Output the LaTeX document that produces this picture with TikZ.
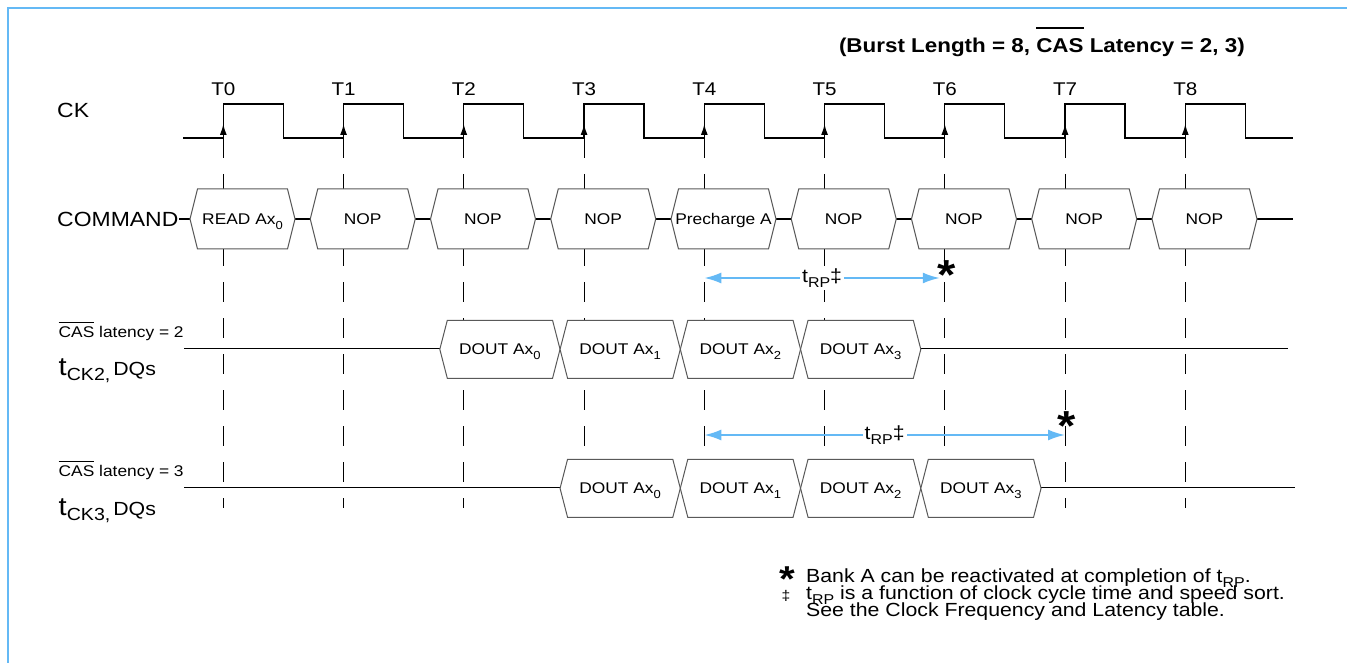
\documentclass[tikz,border=0pt]{standalone}
\usepackage{fontspec}
\setmainfont{Liberation Sans}[FakeStretch=1.12]
\usetikzlibrary{arrows.meta}
\definecolor{skyline}{RGB}{100,185,245}
\newcommand\fsz[1]{\fontsize{#1}{#1}\selectfont}
\newcommand\sub[1]{\raisebox{-.3em}{\scalebox{.75}{#1}}}
\newcommand\barred[2]{\setbox0\hbox{#2}\rlap{\rule[\dimexpr\ht0+#1\relax]{\wd0}{.08em}}\box0\relax}
\begin{document}
\begin{tikzpicture}[line cap=butt,>={Latex[length=17pt,width=11pt]},x=1pt,y=-1pt,
  sig/.style={line width=1.3pt},
  cell/.style={draw=black!65,fill=white,line width=1pt},
  tick/.style={line width=1.1pt,dash pattern=on 20pt off 16pt},
  rp/.style={<->,skyline,line width=2pt},
  rplbl/.style={fill=white,inner sep=2pt,text=black,font=\fsz{19}},
  txt/.style={inner sep=0pt,anchor=base}]
\useasboundingbox (0,0) rectangle (1347,663);
\draw[skyline,line width=2pt] (7.7,663) -- (7.7,7.7) -- (1347,7.7);
\node[txt,anchor=base east,font=\fsz{20}\bfseries] (title) at (1245,52.7) {(Burst Length = 8, \barred{.5em}{CAS} Latency = 2, 3)};
\node[txt,anchor=base west,font=\fsz{20.5}] (cklbl) at (57,117.5) {CK};
\node[txt,anchor=base west,font=\fsz{20.5}] (cmdlbl) at (57,227) {COMMAND};
\foreach \k in {0,...,8}{
  \pgfmathsetmacro\tx{223.3+120.25*\k}
  \node[txt,font=\fsz{18.4}] (tlbl\k) at (\tx,96) {T\k};
  \coordinate (e\k) at (\tx,138);
  \draw[tick] (e\k) -- (\tx,508);
  \draw[sig,-{Latex[length=11pt,width=7pt]}] (e\k) -- (\tx,124);
}
\draw[sig] (183,138) \foreach \k in {0,...,8}{ -- ({223.3+120.25*\k},138) -- ++(0,-34) -- ++(60,0) -- ++(0,34)} -- (1293,138);
\draw[sig] (179,219) -- (1293,219);
\foreach \k/\c in {0/READ Ax\sub{0},1/NOP,2/NOP,3/NOP,4/Precharge A,5/NOP,6/NOP,7/NOP,8/NOP}{
  \pgfmathsetmacro\xa{190+120.25*\k}
  \draw[cell] (\xa,219) -- ++(7.5,-30) -- ++(90,0) -- ++(7.5,30) -- ++(-7.5,30) -- ++(-90,0) -- cycle;
  \node[txt,font=\fsz{15.5}] (cmd\k) at (\xa+52.5,224.5) {\c};
}
\draw[sig] (184,348.3) -- (1288,348.3);
\draw[sig] (184,487.7) -- (1295,487.7);
\foreach \k/\n in {2/0,3/1,4/2,5/3}{
  \pgfmathsetmacro\xa{199.3+120.25*\k}
  \pgfmathsetmacro\xb{\xa+120.25}
  \draw[cell] (\xa,349.3) -- ++(7.5,-29) -- ++(105.25,0) -- ++(7.5,29) -- ++(-7.5,29) -- ++(-105.25,0) -- cycle;
  \node[txt,font=\fsz{15.5}] (dqa\n) at (\xa+60.1,354.8) {DOUT Ax\sub{\n}};
  \draw[cell] (\xb,488.3) -- ++(7.5,-29) -- ++(105.25,0) -- ++(7.5,29) -- ++(-7.5,29) -- ++(-105.25,0) -- cycle;
  \node[txt,font=\fsz{15.5}] (dqb\n) at (\xb+60.1,493.8) {DOUT Ax\sub{\n}};
}
\node[txt,anchor=base west,font=\fsz{15.5}] (cla) at (58.5,337) {\barred{.21em}{CAS} latency = 2};
\node[txt,anchor=base west] (tcka) at (58.5,375.7) {\fsz{26}t\raisebox{-5pt}{\fsz{17.5}CK2,}\hspace{3pt}\fsz{19}DQs};
\node[txt,anchor=base west,font=\fsz{15.5}] (clb) at (58.5,476.4) {\barred{.21em}{CAS} latency = 3};
\node[txt,anchor=base west] (tckb) at (58.5,515.1) {\fsz{26}t\raisebox{-5pt}{\fsz{17.5}CK3,}\hspace{3pt}\fsz{19}DQs};
\draw[rp] ([yshift=-140pt]e4) -- node[rplbl] (rplbla) {t\sub{RP}‡} ([yshift=-140pt,xshift=-5pt]e6);
\draw[rp] ([yshift=-297pt]e4) -- node[rplbl] (rplblb) {t\sub{RP}‡} ([yshift=-297pt]e7);
\node[txt,font=\fsz{42}\bfseries] (stara) at (946.5,289) {*};
\node[txt,font=\fsz{42}\bfseries] (starb) at (1066.5,440.6) {*};
\node[txt,font=\fsz{36}\bfseries] (starfn) at (787,591) {*};
\node[txt,font=\fsz{14}] (ddagfn) at (786,600) {‡};
\node[txt,anchor=base west,font=\fsz{19}] (fn1) at (806,582) {Bank A can be reactivated at completion of t\sub{RP}.};
\node[txt,anchor=base west,font=\fsz{19}] (fn2) at (806,599) {t\sub{RP} is a function of clock cycle time and speed sort.};
\node[txt,anchor=base west,font=\fsz{19}] (fn3) at (806,616.5) {See the Clock Frequency and Latency table.};
\end{tikzpicture}
\end{document}
